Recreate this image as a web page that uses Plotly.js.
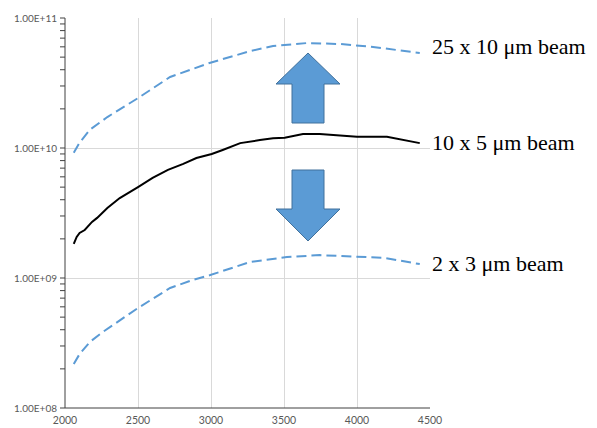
<!DOCTYPE html>
<html>
<head>
<meta charset="utf-8">
<script src="https://cdn.plot.ly/plotly-3.0.1.min.js"></script>
<style>html,body{margin:0;padding:0;background:#fff;}#chart{width:597px;height:428px;}</style>
</head>
<body>
<div id="chart"></div>
<script>
// Middle beam (10 x 5 µm), solid black
const midX = [2060, 2080, 2100, 2135, 2185, 2220, 2290, 2375, 2500, 2600, 2705, 2810, 2900, 3005, 3080, 3200, 3335, 3425, 3505, 3630, 3745, 4000, 4205, 4430];
const midY = [1.83e9, 2.07e9, 2.22e9, 2.34e9, 2.70e9, 2.90e9, 3.45e9, 4.12e9, 5.01e9, 5.88e9, 6.78e9, 7.54e9, 8.38e9, 9.0e9, 9.66e9, 1.09e10, 1.15e10, 1.19e10, 1.20e10, 1.28e10, 1.28e10, 1.22e10, 1.22e10, 1.09e10];
// Large beam (25 x 10 µm), dashed blue
const hiX = [2060, 2100, 2170, 2290, 2500, 2720, 2990, 3270, 3425, 3660, 3885, 4110, 4430];
const hiY = [9.2e9, 1.1e10, 1.38e10, 1.73e10, 2.42e10, 3.52e10, 4.51e10, 5.57e10, 6.09e10, 6.42e10, 6.31e10, 5.99e10, 5.38e10];
// Small beam (2 x 3 µm), dashed blue
const loX = [2060, 2100, 2170, 2260, 2500, 2720, 2875, 2990, 3270, 3520, 3745, 4000, 4180, 4430];
const loY = [2.18e8, 2.6e8, 3.22e8, 3.85e8, 5.88e8, 8.38e8, 9.66e8, 1.05e9, 1.33e9, 1.45e9, 1.50e9, 1.45e9, 1.43e9, 1.28e9];

const labels = ["25 x 10 \u03bcm beam", "10 x 5 \u03bcm beam", "2 x 3 \u03bcm beam"];
const labelPos = [0.926, 0.682, 0.37];

const yTickVals = [1e8, 1e9, 1e10, 1e11];
const yTickText = ["1.00E+08", "1.00E+09", "1.00E+10", "1.00E+11"];
const xTickVals = [2000, 2500, 3000, 3500, 4000, 4500];
const yMin = 8, yMax = 11;

const blue = '#5B9BD5';
const axisColor = '#404040';
const traces = [
  {x: hiX, y: hiY, mode: 'lines', line: {color: blue, width: 2, dash: '10px,5px'}, hoverinfo: 'skip'},
  {x: midX, y: midY, mode: 'lines', line: {color: '#000000', width: 2}, hoverinfo: 'skip'},
  {x: loX, y: loY, mode: 'lines', line: {color: blue, width: 2, dash: '10px,5px'}, hoverinfo: 'skip'}
];

const annotations = labels.map((t, i) => ({
  text: t, xref: 'paper', yref: 'paper', x: 1.0, y: labelPos[i],
  xanchor: 'left', yanchor: 'middle', showarrow: false,
  font: {family: 'Liberation Serif, Times New Roman, serif', size: 22, color: '#000'}
}));

const px = p => (p - 65) / 365;
const py = p => (408 - p) / 390;
function arrowUp() {
  return `M${px(308)},${py(53)} L${px(340)},${py(84)} L${px(324)},${py(84)} L${px(324)},${py(123)} L${px(292)},${py(123)} L${px(292)},${py(84)} L${px(276)},${py(84)} Z`;
}
function arrowDown() {
  return `M${px(292)},${py(170)} L${px(324)},${py(170)} L${px(324)},${py(209)} L${px(340)},${py(209)} L${px(308)},${py(241)} L${px(276)},${py(209)} L${px(292)},${py(209)} Z`;
}
const shapes = [
  {type: 'path', xref: 'paper', yref: 'paper', path: arrowUp(), fillcolor: blue, line: {color: '#41719C', width: 1}},
  {type: 'path', xref: 'paper', yref: 'paper', path: arrowDown(), fillcolor: blue, line: {color: '#41719C', width: 1}},
  // axis lines
  {type: 'line', xref: 'paper', yref: 'paper', x0: 0, x1: 0, y0: 0, y1: 1, line: {color: axisColor, width: 1}},
  {type: 'line', xref: 'paper', yref: 'paper', x0: 0, x1: 1, y0: 0, y1: 0, line: {color: axisColor, width: 1}}
];
// minor / major tick marks on the log y axis
for (let k = yMin; k < yMax; k++) {
  for (let m = 1; m <= 9; m++) {
    const f = (Math.log10(m) + k - yMin) / (yMax - yMin);
    shapes.push({type: 'line', xref: 'paper', yref: 'paper', x0: -5 / 365, x1: 0, y0: f, y1: f, line: {color: axisColor, width: 1}});
  }
}
shapes.push({type: 'line', xref: 'paper', yref: 'paper', x0: -5 / 365, x1: 0, y0: 1, y1: 1, line: {color: axisColor, width: 1}});

const layout = {
  width: 597, height: 428,
  margin: {l: 65, r: 167, t: 18, b: 20},
  paper_bgcolor: '#fff', plot_bgcolor: '#fff',
  showlegend: false,
  font: {family: 'Lato, Open Sans, sans-serif', size: 10, color: '#595959'},
  xaxis: {
    range: [2000, 4500], tickmode: 'array', tickvals: xTickVals,
    showgrid: true, gridcolor: '#d9d9d9', gridwidth: 1,
    showline: false, ticks: '', zeroline: false, fixedrange: true,
    ticklabelstandoff: 4,
    tickfont: {size: 10.5, color: '#595959'}
  },
  yaxis: {
    type: 'log', range: [yMin, yMax], tickmode: 'array', tickvals: yTickVals, ticktext: yTickText,
    showgrid: true, gridcolor: '#d9d9d9', gridwidth: 1,
    showline: false, ticks: 'outside', ticklen: 5, tickcolor: '#ffffff',
    zeroline: false, fixedrange: true,
    tickfont: {size: 10, color: '#595959'}
  },
  annotations: annotations,
  shapes: shapes
};

Plotly.newPlot('chart', traces, layout, {staticPlot: true, displayModeBar: false});
</script>
</body>
</html>
